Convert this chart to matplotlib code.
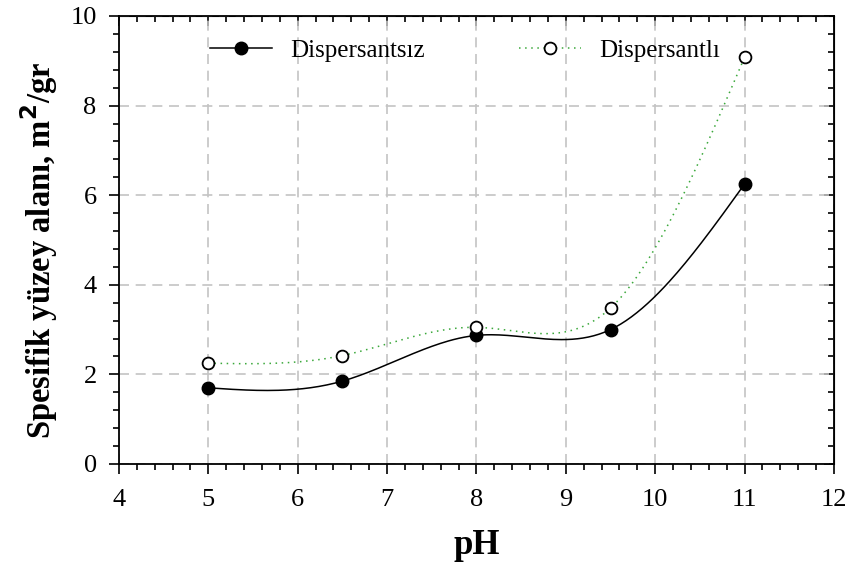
import numpy as np
import matplotlib.pyplot as plt

# veriler
ph = [5, 6.5, 8, 9.5, 11]
dispersantsiz = [1.70, 1.85, 2.87, 3.00, 6.25]
dispersantli = [2.25, 2.42, 3.05, 3.48, 9.08]


def natural_spline(x, y, n=200):
    # dogal kubik spline, egriyi yumusak cizmek icin
    x = np.asarray(x, float)
    y = np.asarray(y, float)
    k = len(x)
    h = np.diff(x)
    A = np.zeros((k, k))
    b = np.zeros(k)
    A[0, 0] = 1
    A[-1, -1] = 1
    for i in range(1, k - 1):
        A[i, i - 1] = h[i - 1]
        A[i, i] = 2 * (h[i - 1] + h[i])
        A[i, i + 1] = h[i]
        b[i] = 6 * ((y[i + 1] - y[i]) / h[i] - (y[i] - y[i - 1]) / h[i - 1])
    M = np.linalg.solve(A, b)
    xs = np.linspace(x[0], x[-1], n)
    ys = np.zeros_like(xs)
    for j, t in enumerate(xs):
        i = min(np.searchsorted(x, t, side="right") - 1, k - 2)
        a = x[i + 1] - t
        c = t - x[i]
        ys[j] = (M[i] * a**3 + M[i + 1] * c**3) / (6 * h[i]) \
            + (y[i] / h[i] - M[i] * h[i] / 6) * a \
            + (y[i + 1] / h[i] - M[i + 1] * h[i] / 6) * c
    return xs, ys


plt.rcParams["font.family"] = "Liberation Serif"

fig = plt.figure(figsize=(8.51, 5.65), dpi=100)
ax = fig.add_axes([0.1398, 0.1788, 0.8402, 0.7929])

ax.grid(True, color="#c4c4c4", linestyle=(0, (6, 4)), linewidth=1.2)
ax.set_axisbelow(True)

xs, ys = natural_spline(ph, dispersantsiz)
ax.plot(xs, ys, color="black", linewidth=1.1)
xs2, ys2 = natural_spline(ph, dispersantli)
ax.plot(xs2, ys2, color="#3aa83a", linewidth=1.1, linestyle=(0, (1, 3)))

ax.plot(ph, dispersantsiz, "o", color="black", markersize=9)
ax.plot(ph, dispersantli, "o", markerfacecolor="white", markeredgecolor="black",
        markeredgewidth=1.3, markersize=8.5)

# legend icin bos cizgiler
l1, = ax.plot([], [], color="black", linewidth=1.1, marker="o", markersize=9)
l2, = ax.plot([], [], color="#3aa83a", linewidth=1.1, linestyle=(0, (1, 3)),
              marker="o", markerfacecolor="white", markeredgecolor="black",
              markeredgewidth=1.3, markersize=8.5)
ax.legend([l1, l2], ["Dispersantsız", "Dispersantlı"], ncol=2, frameon=False,
          loc="upper left", bbox_to_anchor=(0.127, 0.948), borderaxespad=0,
          borderpad=0, fontsize=18, handlelength=2.5, handletextpad=0.72,
          columnspacing=3.75)

ax.set_xlim(4, 12)
ax.set_ylim(0, 10)
ax.set_xticks(np.arange(4, 12.1, 1))
ax.set_yticks(np.arange(0, 10.1, 2))
ax.set_xticks(np.arange(4, 12.01, 0.2), minor=True)
ax.set_yticks(np.arange(0, 10.01, 0.4), minor=True)

ax.tick_params(which="both", direction="out", top=False, right=False,
               labelsize=19, width=1.2)
ax.tick_params(axis="x", pad=11)
ax.tick_params(axis="y", pad=9)
ax.tick_params(which="major", length=7)
ax.tick_params(which="minor", length=4)
ax2 = ax.secondary_xaxis("top")
ax2.set_xticks(np.arange(4, 12.1, 1))
ax2.set_xticks(np.arange(4, 12.01, 0.2), minor=True)
ax2.tick_params(which="both", direction="in", labeltop=False, width=1.2)
ax2.tick_params(which="major", length=7)
ax2.tick_params(which="minor", length=4)
ay2 = ax.secondary_yaxis("right")
ay2.set_yticks(np.arange(0, 10.1, 2))
ay2.set_yticks(np.arange(0, 10.01, 0.4), minor=True)
ay2.tick_params(which="both", direction="in", labelright=False, width=1.2)
ay2.tick_params(which="major", length=7)
ay2.tick_params(which="minor", length=4)

for s in ax.spines.values():
    s.set_linewidth(1.3)

ax.set_xlabel("pH", fontsize=25, fontweight="bold", labelpad=13)
ax.set_ylabel("Spesifik yüzey alanı, m$\\mathbf{^2}$/gr", fontsize=23.5,
              fontweight="bold")
ax.yaxis.set_label_coords(-0.083, 0.478)

plt.savefig("out.png", dpi=100)
